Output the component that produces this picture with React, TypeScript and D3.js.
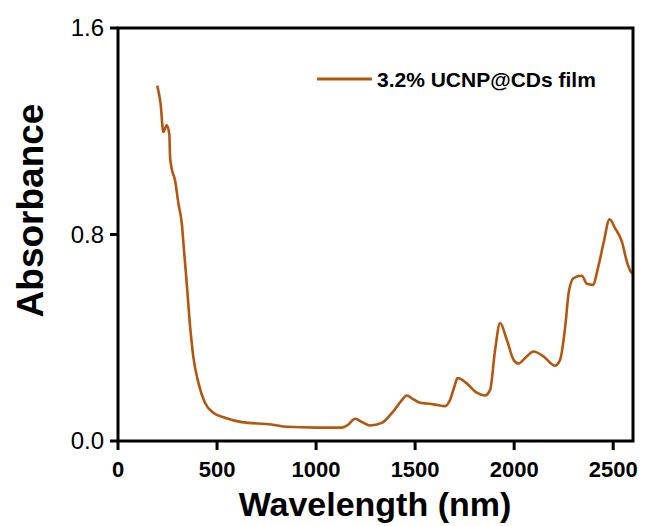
import React from "react";
import * as d3 from "d3";

// absorbance spectrum
const wavelength = [
  198, 215, 229, 246, 259, 263, 271, 288, 305, 322, 333, 347, 364, 380, 406, 439, 481, 540, 625, 776, 852,
  1000, 1130, 1160, 1197, 1235, 1273, 1332, 1390, 1430, 1458, 1490, 1525, 1559, 1600, 1652, 1677, 1700, 1714,
  1753, 1811, 1853, 1879, 1904, 1929, 1963, 1997, 2022, 2056, 2098, 2148, 2207, 2232, 2258, 2275, 2300, 2342,
  2367, 2397, 2425, 2451, 2482, 2510, 2544, 2569, 2589, 2600,
];
const absorbance = [
  1.377, 1.307, 1.197, 1.223, 1.19, 1.1, 1.056, 1.01, 0.92, 0.843, 0.74, 0.611, 0.444, 0.328, 0.225, 0.148,
  0.109, 0.09, 0.073, 0.064, 0.055, 0.052, 0.052, 0.062, 0.086, 0.072, 0.06, 0.07, 0.115, 0.155, 0.176, 0.162,
  0.148, 0.145, 0.141, 0.135, 0.161, 0.215, 0.244, 0.228, 0.187, 0.176, 0.199, 0.354, 0.457, 0.392, 0.315, 0.3,
  0.322, 0.347, 0.328, 0.292, 0.315, 0.444, 0.573, 0.631, 0.64, 0.609, 0.605, 0.676, 0.766, 0.859, 0.824,
  0.772, 0.695, 0.656, 0.65,
];
const xTicks = [0, 500, 1000, 1500, 2000, 2500];
const yTicks = [0, 0.8, 1.6];
const seriesName = "3.2% UCNP@CDs film";

const width = 646;
const height = 526;
const margin = { top: 28, right: 13, bottom: 85, left: 118 };
const font = "Arial, 'Liberation Sans', sans-serif";
const color = "#b5560e";

export default function App() {
  const x = d3.scaleLinear().domain([0, 2600]).range([margin.left, width - margin.right]);
  const y = d3.scaleLinear().domain([0, 1.6]).range([height - margin.bottom, margin.top]);

  const pts: [number, number][] = wavelength.map((w, i) => [w, absorbance[i]]);
  const line = d3
    .line<[number, number]>()
    .x((d) => x(d[0]))
    .y((d) => y(d[1]))
    .curve(d3.curveMonotoneX);

  const x0 = x(0);
  const x1 = x(2600);
  const y0 = y(0);
  const y1 = y(1.6);

  return (
    <svg width={width} height={height} style={{ position: "absolute", left: 0, top: 0 }}>
      <rect width={width} height={height} fill="#fff" />
      <path d={line(pts) || ""} fill="none" stroke={color} strokeWidth={2.6} strokeLinejoin="round" />

      {/* frame */}
      <rect x={x0} y={y1} width={x1 - x0} height={y0 - y1} fill="none" stroke="#000" strokeWidth={3} />

      {xTicks.map((t) => (
        <g key={t}>
          <line x1={x(t)} x2={x(t)} y1={y0} y2={y0 + 9} stroke="#000" strokeWidth={3} />
          <text x={x(t)} y={y0 + 36} textAnchor="middle" fontFamily={font} fontWeight="bold" fontSize={22}>
            {t}
          </text>
        </g>
      ))}
      {yTicks.map((t) => (
        <g key={t}>
          <line x1={x0 - 8} x2={x0} y1={y(t)} y2={y(t)} stroke="#000" strokeWidth={3} />
          <text x={x0 - 14} y={y(t) + 8} textAnchor="end" fontFamily={font} fontSize={24}>
            {t.toFixed(1)}
          </text>
        </g>
      ))}

      <text x={375} y={516} textAnchor="middle" fontFamily={font} fontWeight="bold" fontSize={34}>
        Wavelength (nm)
      </text>
      <text
        transform={`translate(43,${(y0 + y1) / 2 - 24}) rotate(-90)`}
        textAnchor="middle"
        fontFamily={font}
        fontWeight="bold"
        fontSize={37}
      >
        Absorbance
      </text>

      <line x1={317} x2={372} y1={79} y2={79} stroke={color} strokeWidth={2.8} />
      <text x={377} y={87} fontFamily={font} fontWeight="bold" fontSize={21}>
        {seriesName}
      </text>
    </svg>
  );
}
